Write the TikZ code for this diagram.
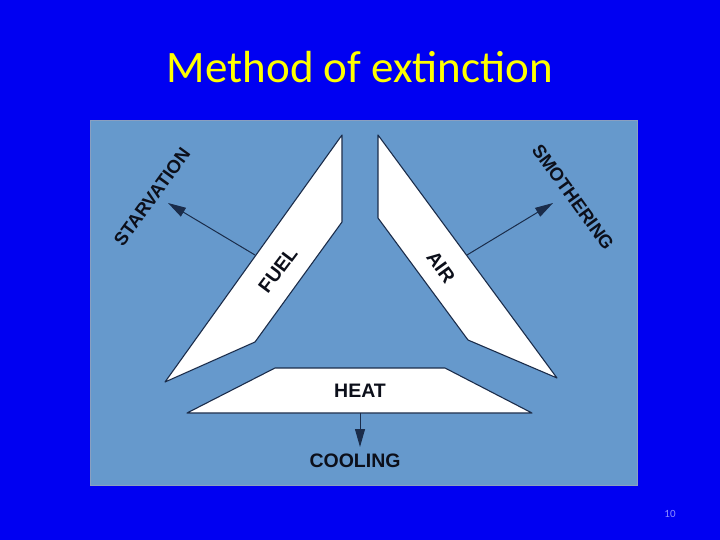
\documentclass[tikz,border=0pt]{standalone}
\usepackage{fontspec}
\setmainfont{Liberation Sans}
\newfontfamily\titlefont{Carlito}
\usetikzlibrary{arrows.meta}
\definecolor{slidebg}{HTML}{0000F2}
\definecolor{panelbg}{HTML}{6699CC}
\definecolor{panelrim}{HTML}{8A9FC0}
\definecolor{edgecol}{HTML}{1A2C4A}
\definecolor{titlecol}{HTML}{FFFF00}
\definecolor{inkcol}{HTML}{0C0F1A}
\definecolor{pagecol}{HTML}{8C8CFF}

\tikzset{
  side/.style={fill=white, draw=edgecol, line width=1.1pt, line join=round},
  word/.style={text=inkcol, font=\bfseries\fontsize{19.5}{21}\selectfont, inner sep=0pt},
  outword/.style={word, font=\bfseries\fontsize{18.5}{20}\selectfont},
  push/.style={draw=edgecol, line width=1pt, -{Triangle[length=18pt,width=10pt]}}
}

\begin{document}
\begin{tikzpicture}[x=1pt, y=-1pt]

% Slide
    \fill[slidebg] (0,0) rectangle (720,540);
    \useasboundingbox (0,0) rectangle (720,540);
    \node[font=\titlefont\fontsize{45}{50}\selectfont, text=titlecol] (title) at (360,67) {Method of extinction};
    \node[font=\titlefont\fontsize{11}{13}\selectfont, text=pagecol] (page) at (670,514) {10};

% Panel
    \draw[fill=panelbg, draw=panelrim, line width=1pt] (90,121) rectangle (637,485);

% Fuel
    \draw[side] (342,135) -- (342,222) -- (255,342) -- (165,382) -- cycle;
    \node[word, rotate=53] (fuel) at (278,270) {FUEL};
    \coordinate (starvefrom) at (255,255);
    \coordinate (starveto) at (168,203);
    \node[outword, rotate=54] (starve) at (152,197) {STARVATION};

% Air
    \draw[side] (378,135) -- (378,218) -- (468,340) -- (557,378) -- cycle;
    \node[word, rotate=-54] (air) at (441,267) {AIR};
    \coordinate (smotherfrom) at (467,255);
    \coordinate (smotherto) at (553,203);
    \node[outword, rotate=-54] (smother) at (573,197) {SMOTHERING};

% Heat
    \draw[side] (275,368) -- (445,368) -- (532,413) -- (187,413) -- cycle;
    \node[word] (heat) at (360,391) {HEAT};
    \coordinate (coolfrom) at (360,413);
    \coordinate (coolto) at (360,447);
    \node[word] (cool) at (355,461) {COOLING};

% Arrows
    \draw[push] (starvefrom) -- (starveto);
    \draw[push] (smotherfrom) -- (smotherto);
    \draw[push] (coolfrom) -- (coolto);

\end{tikzpicture}
\end{document}
